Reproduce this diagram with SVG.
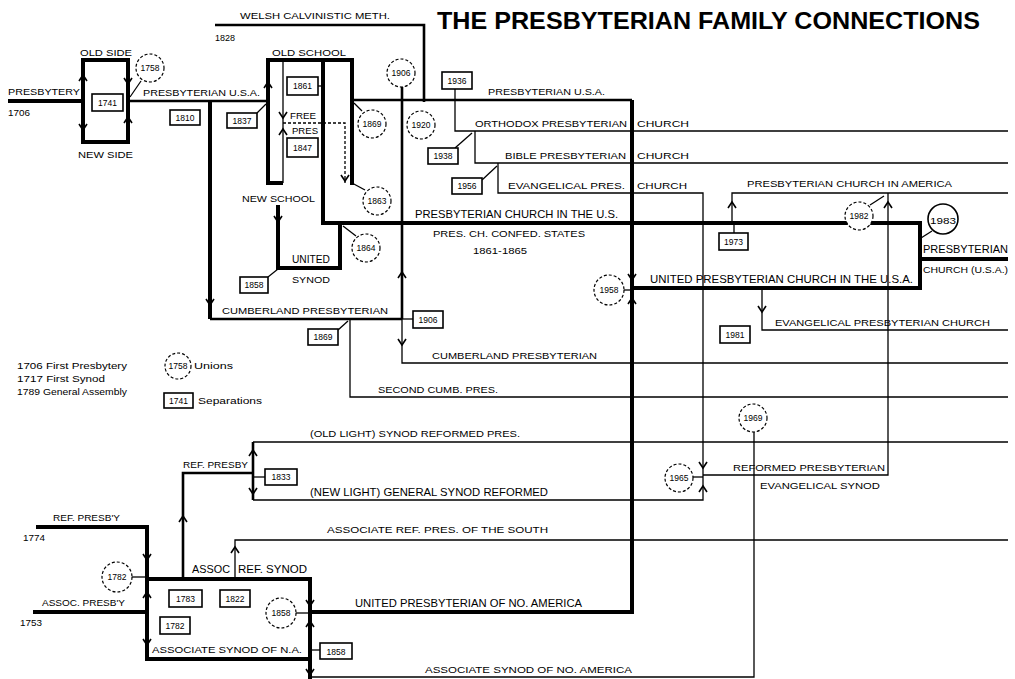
<svg xmlns="http://www.w3.org/2000/svg" xmlns:xlink="http://www.w3.org/1999/xlink" width="1015" height="679" viewBox="0 0 1015 679">
<style>
text{font-family:"Liberation Sans",Arial,sans-serif;font-size:9.5px;fill:#000}
.t{font-size:23px;font-weight:bold}
.L{font-size:10.5px}
.n{font-size:8.5px;text-anchor:middle}
.k{stroke:#000;fill:none;stroke-width:4}
.m{stroke:#000;fill:none;stroke-width:2.6}
.h{stroke:#000;fill:none;stroke-width:1.3}
.c{stroke:#000;fill:#fff;stroke-width:1.2;stroke-dasharray:3 2}
.b{stroke:#000;fill:#fff;stroke-width:1.6}
.a{stroke:#000;fill:none;stroke-width:1.6}
</style>
<defs>
<path id="au" class="a" d="M-4,6 L0,0 L4,6"/>
<path id="ad" class="a" d="M-4,-6 L0,0 L4,-6"/>
</defs>
<rect width="1015" height="679" fill="#fff"/>
<text class="t" x="437" y="29" textLength="543" lengthAdjust="spacingAndGlyphs">THE PRESBYTERIAN FAMILY CONNECTIONS</text>
<g id="connectors">
<path class="k" d="M8,101 H83"/>
<rect class="k" x="83" y="60" width="45" height="82"/>
<path class="m" d="M128,101 H268"/>
<path class="k" d="M210,101 V319"/>
<path class="m" d="M215,25 H424 V102"/>
<path class="k" d="M268,101 V60 H352 V101"/>
<path class="k" d="M268,101 V183 H283"/>
<path class="k" d="M323,60 V223 H920 V288 H632"/>
<path class="k" d="M920,259 H1008"/>
<path class="m" d="M352,100 H632"/>
<path class="k" d="M632,100 V612 H310"/>
<path class="k" d="M352,101 V185"/>
<path class="h" d="M283,60 V183"/>
<path class="h" d="M283,123 H345 V183" stroke-dasharray="3 2"/>
<path class="k" d="M278,205 V268 H340 V223"/>
<path class="m" d="M210,319 H402"/>
<path class="m" d="M402,87 V319"/>
<path class="h" d="M402,319 V363 H1008"/>
<path class="h" d="M350,319 V397 H1008"/>
<path class="h" d="M455,89 V131 H1008"/>
<path class="h" d="M475,131 V163 H1008"/>
<path class="h" d="M498,163 V193 H703 V500 H253"/>
<path class="h" d="M732,223 V193 H1008"/>
<path class="h" d="M888,193 V475 H703"/>
<path class="h" d="M762,288 V330 H1008"/>
<path class="h" d="M253,442 H1008"/>
<path class="m" d="M253,442 V500"/>
<path class="m" d="M183,579 V473 H253"/>
<path class="h" d="M235,579 V540 H1008"/>
<path class="h" d="M754,432 V677 H310"/>
<path class="k" d="M36,527 H147 V659 H310 V579 H147"/>
<path class="k" d="M33,612 H147"/>
<path class="k" d="M310,659 V679"/>
<path class="h" d="M141,81 L130,97"/>
<path class="h" d="M257,113 L266,104"/>
<path class="h" d="M318,86 H323"/>
<path class="h" d="M362,111 L354,103"/>
<path class="h" d="M365,190 L352,183"/>
<path class="h" d="M356,236 L343,226"/>
<path class="h" d="M268,277 L278,269"/>
<path class="h" d="M455,148 L472,133"/>
<path class="h" d="M482,180 L497,166"/>
<path class="h" d="M413,319 H402"/>
<path class="h" d="M338,330 L348,321"/>
<path class="h" d="M624,290 H632"/>
<path class="h" d="M734,233 V223"/>
<path class="h" d="M870,205 L884,196"/>
<path class="h" d="M932,231 L921,238"/>
<path class="h" d="M735,326 V330"/>
<path class="h" d="M693,477 H703"/>
<path class="h" d="M265,477 H253"/>
<path class="h" d="M132,577 H147"/>
<path class="h" d="M296,613 H310"/>
<path class="h" d="M320,650 H310"/>
<use xlink:href="#au" x="83" y="75"/>
<use xlink:href="#ad" x="83" y="130"/>
<use xlink:href="#ad" x="128" y="84"/>
<use xlink:href="#au" x="128" y="117"/>
<use xlink:href="#ad" x="210" y="305"/>
<use xlink:href="#au" x="268" y="82"/>
<use xlink:href="#ad" x="283" y="118"/>
<use xlink:href="#au" x="283" y="129"/>
<use xlink:href="#ad" x="345" y="181"/>
<use xlink:href="#ad" x="278" y="222"/>
<use xlink:href="#au" x="402" y="272"/>
<use xlink:href="#ad" x="402" y="345"/>
<use xlink:href="#ad" x="632" y="280"/>
<use xlink:href="#au" x="632" y="298"/>
<use xlink:href="#au" x="732" y="202"/>
<use xlink:href="#au" x="888" y="202"/>
<use xlink:href="#ad" x="762" y="312"/>
<use xlink:href="#au" x="253" y="450"/>
<use xlink:href="#ad" x="253" y="494"/>
<use xlink:href="#ad" x="703" y="468"/>
<use xlink:href="#au" x="703" y="486"/>
<use xlink:href="#au" x="183" y="516"/>
<use xlink:href="#au" x="235" y="547"/>
<use xlink:href="#ad" x="147" y="560"/>
<use xlink:href="#au" x="147" y="592"/>
<use xlink:href="#ad" x="147" y="645"/>
<use xlink:href="#ad" x="310" y="606"/>
<use xlink:href="#au" x="310" y="621"/>
<use xlink:href="#ad" x="310" y="675"/>
</g>
<g id="labels">
<text x="240" y="19" textLength="150" lengthAdjust="spacingAndGlyphs">WELSH CALVINISTIC METH.</text>
<text x="215" y="41" textLength="20" lengthAdjust="spacingAndGlyphs">1828</text>
<text x="80" y="56" textLength="52" lengthAdjust="spacingAndGlyphs">OLD SIDE</text>
<text x="8" y="95" textLength="72" lengthAdjust="spacingAndGlyphs">PRESBYTERY</text>
<text x="8" y="116" textLength="22" lengthAdjust="spacingAndGlyphs">1706</text>
<text x="78" y="158" textLength="55" lengthAdjust="spacingAndGlyphs">NEW SIDE</text>
<text x="143" y="96" textLength="117" lengthAdjust="spacingAndGlyphs">PRESBYTERIAN U.S.A.</text>
<text x="272" y="56" textLength="74" lengthAdjust="spacingAndGlyphs">OLD SCHOOL</text>
<text x="290" y="119" textLength="26" lengthAdjust="spacingAndGlyphs">FREE</text>
<text x="292" y="134" textLength="26" lengthAdjust="spacingAndGlyphs">PRES</text>
<text x="488" y="95" textLength="117" lengthAdjust="spacingAndGlyphs">PRESBYTERIAN U.S.A.</text>
<text x="475" y="127" textLength="152" lengthAdjust="spacingAndGlyphs">ORTHODOX PRESBYTERIAN</text>
<text x="637" y="127" textLength="52" lengthAdjust="spacingAndGlyphs">CHURCH</text>
<text x="505" y="159" textLength="121" lengthAdjust="spacingAndGlyphs">BIBLE PRESBYTERIAN</text>
<text x="637" y="159" textLength="52" lengthAdjust="spacingAndGlyphs">CHURCH</text>
<text x="508" y="189" textLength="117" lengthAdjust="spacingAndGlyphs">EVANGELICAL  PRES.</text>
<text x="637" y="189" textLength="50" lengthAdjust="spacingAndGlyphs">CHURCH</text>
<text x="242" y="202" textLength="73" lengthAdjust="spacingAndGlyphs">NEW SCHOOL</text>
<text class="L" x="415" y="218" textLength="203" lengthAdjust="spacingAndGlyphs">PRESBYTERIAN CHURCH IN THE U.S.</text>
<text x="433" y="237" textLength="152" lengthAdjust="spacingAndGlyphs">PRES. CH. CONFED. STATES</text>
<text x="473" y="254" textLength="54" lengthAdjust="spacingAndGlyphs">1861-1865</text>
<text class="L" x="292" y="263" textLength="38" lengthAdjust="spacingAndGlyphs">UNITED</text>
<text x="292" y="283" textLength="38" lengthAdjust="spacingAndGlyphs">SYNOD</text>
<text x="222" y="314" textLength="166" lengthAdjust="spacingAndGlyphs">CUMBERLAND PRESBYTERIAN</text>
<text class="L" x="650" y="283" textLength="263" lengthAdjust="spacingAndGlyphs">UNITED PRESBYTERIAN  CHURCH IN THE  U.S.A.</text>
<text x="747" y="187" textLength="205" lengthAdjust="spacingAndGlyphs">PRESBYTERIAN CHURCH IN AMERICA</text>
<text class="L" x="923" y="253" textLength="85" lengthAdjust="spacingAndGlyphs">PRESBYTERIAN</text>
<text x="923" y="273" textLength="85" lengthAdjust="spacingAndGlyphs">CHURCH (U.S.A.)</text>
<text x="775" y="326" textLength="215" lengthAdjust="spacingAndGlyphs">EVANGELICAL PRESBYTERIAN CHURCH</text>
<text x="432" y="359" textLength="165" lengthAdjust="spacingAndGlyphs">CUMBERLAND PRESBYTERIAN</text>
<text x="378" y="393" textLength="120" lengthAdjust="spacingAndGlyphs">SECOND CUMB. PRES.</text>
<text x="310" y="437" textLength="210" lengthAdjust="spacingAndGlyphs">(OLD LIGHT) SYNOD REFORMED PRES.</text>
<text x="183" y="468" textLength="65" lengthAdjust="spacingAndGlyphs">REF. PRESBY</text>
<text x="733" y="471" textLength="152" lengthAdjust="spacingAndGlyphs">REFORMED PRESBYTERIAN</text>
<text x="760" y="489" textLength="120" lengthAdjust="spacingAndGlyphs">EVANGELICAL SYNOD</text>
<text class="L" x="310" y="496" textLength="238" lengthAdjust="spacingAndGlyphs">(NEW LIGHT) GENERAL SYNOD REFORMED</text>
<text x="53" y="521" textLength="67" lengthAdjust="spacingAndGlyphs">REF. PRESB'Y</text>
<text x="23" y="541" textLength="22" lengthAdjust="spacingAndGlyphs">1774</text>
<text x="327" y="533" textLength="221" lengthAdjust="spacingAndGlyphs">ASSOCIATE REF. PRES. OF THE SOUTH</text>
<text class="L" x="192" y="573" textLength="38" lengthAdjust="spacingAndGlyphs">ASSOC</text>
<text class="L" x="238" y="573" textLength="69" lengthAdjust="spacingAndGlyphs">REF. SYNOD</text>
<text x="42" y="606" textLength="83" lengthAdjust="spacingAndGlyphs">ASSOC. PRESB'Y</text>
<text x="20" y="626" textLength="22" lengthAdjust="spacingAndGlyphs">1753</text>
<text class="L" x="355" y="607" textLength="227" lengthAdjust="spacingAndGlyphs">UNITED PRESBYTERIAN OF NO. AMERICA</text>
<text x="152" y="653" textLength="150" lengthAdjust="spacingAndGlyphs">ASSOCIATE SYNOD OF N.A.</text>
<text x="425" y="673" textLength="207" lengthAdjust="spacingAndGlyphs">ASSOCIATE SYNOD OF NO. AMERICA</text>
</g>
<g id="legend">
<text x="17" y="369" textLength="110" lengthAdjust="spacingAndGlyphs">1706 First Presbytery</text>
<text x="17" y="382" textLength="88" lengthAdjust="spacingAndGlyphs">1717 First Synod</text>
<text x="17" y="395" textLength="110" lengthAdjust="spacingAndGlyphs">1789 General Assembly</text>
<circle class="c" cx="178" cy="366" r="13"/><text class="n" x="178" y="369">1758</text>
<text x="194" y="369" textLength="39" lengthAdjust="spacingAndGlyphs">Unions</text>
<rect class="b" x="164" y="393" width="29" height="15"/><text class="n" x="178.5" y="404">1741</text>
<text x="198" y="404" textLength="64" lengthAdjust="spacingAndGlyphs">Separations</text>
</g>
<g id="unions">
<g id="u1758"><circle class="c" cx="150" cy="68" r="14"/><text class="n" x="150" y="71">1758</text></g>
<g id="u1869"><circle class="c" cx="372" cy="124" r="14"/><text class="n" x="372" y="127">1869</text></g>
<g id="u1906"><circle class="c" cx="401" cy="73" r="14"/><text class="n" x="401" y="76">1906</text></g>
<g id="u1920"><circle class="c" cx="421" cy="125" r="14"/><text class="n" x="421" y="128">1920</text></g>
<g id="u1863"><circle class="c" cx="377" cy="201" r="14"/><text class="n" x="377" y="204">1863</text></g>
<g id="u1864"><circle class="c" cx="366" cy="248" r="14"/><text class="n" x="366" y="251">1864</text></g>
<g id="u1958"><circle class="c" cx="609" cy="290" r="15"/><text class="n" x="609" y="293">1958</text></g>
<g id="u1982"><circle class="c" cx="859" cy="216" r="14"/><text class="n" x="859" y="219">1982</text></g>
<g id="u1983"><circle cx="943" cy="219" r="15" fill="#fff" stroke="#000" stroke-width="1.6"/><text x="943" y="224" text-anchor="middle" font-size="14" textLength="26" lengthAdjust="spacingAndGlyphs">1983</text></g>
<g id="u1969"><circle class="c" cx="753" cy="418" r="14"/><text class="n" x="753" y="421">1969</text></g>
<g id="u1965"><circle class="c" cx="679" cy="478" r="14"/><text class="n" x="679" y="481">1965</text></g>
<g id="u1782"><circle class="c" cx="117" cy="577" r="15"/><text class="n" x="117" y="580">1782</text></g>
<g id="u1858"><circle class="c" cx="281" cy="613" r="15"/><text class="n" x="281" y="616">1858</text></g>
</g>
<g id="separations">
<g id="s1741"><rect class="b" x="92" y="94" width="31" height="17"/><text class="n" x="107.5" y="106">1741</text></g>
<g id="s1810"><rect class="b" x="170" y="110" width="30" height="15"/><text class="n" x="185" y="121">1810</text></g>
<g id="s1837"><rect class="b" x="227" y="113" width="30" height="15"/><text class="n" x="242" y="124">1837</text></g>
<g id="s1861"><rect class="b" x="287" y="77" width="31" height="18"/><text class="n" x="302.5" y="89">1861</text></g>
<g id="s1847"><rect class="b" x="287" y="138" width="31" height="19"/><text class="n" x="302.5" y="151">1847</text></g>
<g id="s1936"><rect class="b" x="442" y="72" width="30" height="17"/><text class="n" x="457" y="84">1936</text></g>
<g id="s1938"><rect class="b" x="428" y="148" width="30" height="16"/><text class="n" x="443" y="159">1938</text></g>
<g id="s1956"><rect class="b" x="452" y="178" width="30" height="16"/><text class="n" x="467" y="189">1956</text></g>
<g id="s1858a"><rect class="b" x="240" y="277" width="28" height="16"/><text class="n" x="254" y="288">1858</text></g>
<g id="s1906"><rect class="b" x="413" y="311" width="30" height="17"/><text class="n" x="428" y="323">1906</text></g>
<g id="s1869"><rect class="b" x="308" y="329" width="30" height="16"/><text class="n" x="323" y="340">1869</text></g>
<g id="s1973"><rect class="b" x="719" y="233" width="29" height="17"/><text class="n" x="733.5" y="245">1973</text></g>
<g id="s1981"><rect class="b" x="720" y="326" width="30" height="17"/><text class="n" x="735" y="338">1981</text></g>
<g id="s1833"><rect class="b" x="265" y="469" width="32" height="16"/><text class="n" x="281" y="480">1833</text></g>
<g id="s1783"><rect class="b" x="169" y="590" width="33" height="17"/><text class="n" x="185.5" y="602">1783</text></g>
<g id="s1822"><rect class="b" x="220" y="590" width="30" height="17"/><text class="n" x="235" y="602">1822</text></g>
<g id="s1782"><rect class="b" x="160" y="617" width="30" height="17"/><text class="n" x="175" y="629">1782</text></g>
<g id="s1858b"><rect class="b" x="320" y="643" width="32" height="16"/><text class="n" x="336" y="655">1858</text></g>
</g>
</svg>
